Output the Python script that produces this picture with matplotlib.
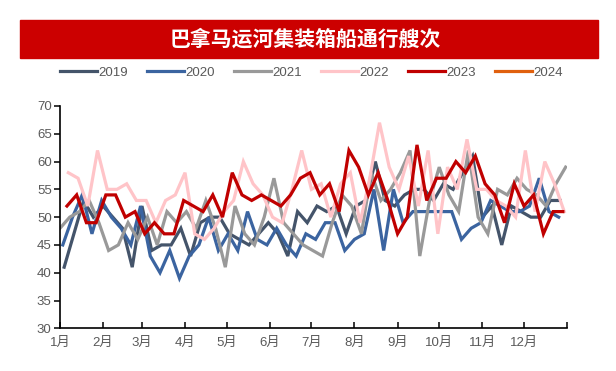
import numpy as np
import pandas as pd
import matplotlib
matplotlib.use('Agg')
import matplotlib.pyplot as plt
from matplotlib.patches import Rectangle

plt.rcParams['font.family'] = ['Liberation Sans', 'Noto Sans CJK SC', 'DejaVu Sans']

#--------------------------------------------------------------------
# 数据：巴拿马运河集装箱船每周通行艘次
years = [2019, 2020, 2021, 2022, 2023, 2024]

v2019 = [41, 47, 53, 50, 52, 50, 48, 41, 52, 44, 45, 45, 48, 43, 49, 50, 50, 47,
         46, 45, 47, 49, 47, 43, 51, 49, 52, 51, 52, 47, 52, 53, 60, 53, 52, 54,
         55, 55, 53, 56, 55, 58, 61, 50, 52, 45, 52, 51, 50, 50, 53, 53]
v2020 = [45, 50, 54, 47, 53, 50, 48, 45, 52, 43, 40, 44, 39, 43, 45, 50, 44, 47,
         44, 51, 46, 45, 48, 45, 43, 47, 46, 49, 49, 44, 46, 47, 55, 44, 55, 49,
         51, 51, 51, 51, 51, 46, 48, 49, 53, 52, 51, 51, 52, 57, 51, 50]
v2021 = [48, 50, 51, 53, 49, 44, 45, 49, 46, 50, 45, 51, 49, 51, 48, 53, 48, 41,
         52, 47, 45, 50, 57, 49, 47, 45, 44, 43, 49, 54, 52, 47, 58, 53, 55, 58,
         62, 43, 53, 59, 54, 51, 62, 50, 47, 55, 54, 57, 55, 54, 52, 56, 59]
v2022 = [58, 57, 52, 62, 55, 55, 56, 53, 53, 49, 53, 54, 58, 47, 46, 48, 51, 53,
         60, 56, 54, 50, 49, 55, 62, 55, 56, 50, 56, 58, 49, 57, 67, 59, 55, 61,
         52, 62, 47, 59, 55, 64, 55, 55, 53, 52, 50, 62, 51, 60, 56, 51]
v2023 = [52, 54, 49, 49, 54, 54, 50, 51, 47, 49, 47, 47, 53, 52, 51, 54, 50, 58,
         54, 53, 54, 53, 52, 54, 57, 58, 54, 56, 51, 62, 59, 54, 58, 53, 47, 50,
         63, 53, 57, 57, 60, 58, 61, 56, 54, 49, 56, 52, 54, 47, 51, 51]
v2024 = []

series = [v2019, v2020, v2021, v2022, v2023, v2024]
colors = ['#44546A', '#3B64A0', '#999999', '#FFC4C8', '#C00000', '#E0600E']

month_labels = ['1月', '2月', '3月', '4月', '5月', '6月', '7月', '8月', '9月',
                '10月', '11月', '12月', '']
month_days = [0, 31, 59, 90, 120, 151, 181, 212, 243, 273, 304, 334, 365]

#--------------------------------------------------------------------
# plot
fig = plt.figure(figsize=(6.16, 3.71), dpi=100)
ax = fig.add_axes([0.0974, 0.1151, 0.8231, 0.5992])

# 标题红色横幅
fig.patches.append(Rectangle((20 / 616, 1 - 58 / 371), 578 / 616, 38 / 371,
                             transform=fig.transFigure, color='#CC0000', zorder=0))
fig.text(305 / 616, 1 - 39 / 371, '巴拿马运河集装箱船通行艘次', color='white',
         fontsize=15, fontweight='bold', ha='center', va='center',
         family=['Noto Sans CJK SC', 'DejaVu Sans'])

for yr, vals, c in zip(years, series, colors):
    # 每周五的数据，横轴按一年中的天数
    fridays = pd.date_range(f'{yr}-01-01', f'{yr}-12-31', freq='W-FRI')
    x = (fridays.dayofyear - 1)[:len(vals)]
    ax.plot(x, vals, color=c, lw=2.3, label=str(yr),
            solid_joinstyle='miter', zorder=3 if yr == 2023 else 2)

ax.set_xlim(0, 365)
ax.set_ylim(30, 70)
ax.set_yticks(range(30, 71, 5))
ax.set_xticks(month_days)
ax.set_xticklabels(month_labels)

for s in ['top', 'right']:
    ax.spines[s].set_visible(False)
for s in ['left', 'bottom']:
    ax.spines[s].set_linewidth(1.2)
    ax.spines[s].set_color('black')
ax.tick_params(axis='y', direction='out', length=4, width=1.1, labelsize=9.5,
               labelcolor='#595959', pad=2)
ax.tick_params(axis='x', direction='in', length=4, width=1.1, labelsize=9.5,
               labelcolor='#595959', pad=6)

fig.legend(loc='center', bbox_to_anchor=(0.505, 1 - 73 / 371), ncol=6, frameon=False,
           fontsize=9.5, handlelength=2.8, handletextpad=0.1, columnspacing=1.45,
           labelcolor='#595959')

fig.savefig('out.png', dpi=100)
